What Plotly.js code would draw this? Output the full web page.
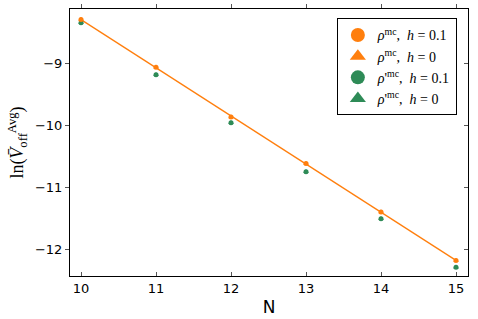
<!DOCTYPE html>
<html><head><meta charset="utf-8">
<script src="https://cdn.plot.ly/plotly-3.0.1.min.js"></script>
<style>html,body{margin:0;padding:0;background:#fff}</style>
</head><body><div id="chart" style="width:478px;height:319px"></div>
<script>
const N = [10, 11, 12, 13, 14, 15];
const rhoMcH01 = [-8.29, -9.06, -9.86, -10.61, -11.39, -12.17];
const rhoMcH0 = [-8.29, -9.06, -9.86, -10.61, -11.39, -12.17];
const rhoPMcH01 = [-8.34, -9.18, -9.95, -10.74, -11.50, -12.28];
const rhoPMcH0 = [-8.34, -9.18, -9.95, -10.74, -11.50, -12.28];
const xTicks = [10, 11, 12, 13, 14, 15];
const yTicks = [-9, -10, -11, -12];
const yTickText = ['\u22129', '\u221210', '\u221211', '\u221212'];

const ORANGE = '#ff7f0e', GREEN = '#2e8b57';

// linear fit of the first series
const n = N.length;
const mx = N.reduce((a,b)=>a+b,0)/n, my = rhoMcH01.reduce((a,b)=>a+b,0)/n;
let sxy=0, sxx=0;
for (let i=0;i<n;i++){ sxy+=(N[i]-mx)*(rhoMcH01[i]-my); sxx+=(N[i]-mx)**2; }
const slope = sxy/sxx, icpt = my - slope*mx;
const fitX = [N[0], N[n-1]];
const fitY = fitX.map(x=>icpt+slope*x);

const lf = {family:'Liberation Serif, DejaVu Serif, serif', size:14, color:'#000'};
const traces = [
  {x:fitX, y:fitY, mode:'lines', line:{color:ORANGE, width:1.3}, showlegend:false, hoverinfo:'skip'},
  {x:N, y:rhoPMcH01, mode:'markers', marker:{symbol:'circle', size:5, color:GREEN}, showlegend:false},
  {x:N, y:rhoPMcH0, mode:'markers', marker:{symbol:'triangle-up', size:5, color:GREEN}, showlegend:false},
  {x:N, y:rhoMcH01, mode:'markers', marker:{symbol:'circle', size:5, color:ORANGE}, showlegend:false},
  {x:N, y:rhoMcH0, mode:'markers', marker:{symbol:'triangle-up', size:5, color:ORANGE}, showlegend:false},
  {x:[null], y:[null], mode:'markers', marker:{symbol:'circle', size:14, color:ORANGE}, name:'<i>\u03c1</i><sup>mc</sup>,  <i>h</i> = 0.1'},
  {x:[null], y:[null], mode:'markers', marker:{symbol:'triangle-up', size:14, color:ORANGE}, name:'<i>\u03c1</i><sup>mc</sup>,  <i>h</i> = 0'},
  {x:[null], y:[null], mode:'markers', marker:{symbol:'circle', size:14, color:GREEN}, name:'<i>\u03c1</i>\'<sup>mc</sup>,  <i>h</i> = 0.1'},
  {x:[null], y:[null], mode:'markers', marker:{symbol:'triangle-up', size:14, color:GREEN}, name:'<i>\u03c1</i>\'<sup>mc</sup>,  <i>h</i> = 0'}
];

const xr = [9.853, 15.16], yr = [-12.42, -8.12];
const tf = {family:'DejaVu Sans, sans-serif', size:13, color:'#000'};
const layout = {
  width:478, height:319,
  margin:{l:70, r:10, t:9, b:43},
  paper_bgcolor:'#fff', plot_bgcolor:'#fff',
  showlegend:true,
  legend:{x:0.972, xanchor:'right', y:0.965, yanchor:'top', bordercolor:'#000', borderwidth:1,
          bgcolor:'#fff', font:lf, tracegroupgap:0, itemsizing:'trace', itemwidth:30},
  xaxis:{range:xr, tickvals:xTicks, ticktext:xTicks.map(String), ticks:'inside', ticklen:4, tickcolor:'#555',
         showgrid:false, zeroline:false, showline:true, linecolor:'#000', linewidth:1, tickfont:tf,
         title:{text:'N', font:{family:'DejaVu Sans, sans-serif', size:17, color:'#000'}, standoff:6}},
  yaxis:{range:yr, tickvals:yTicks, ticktext:yTickText, ticks:'outside', ticklen:4, tickcolor:'#555',
         showgrid:false, zeroline:false, showline:true, linecolor:'#000', linewidth:1, tickfont:tf,
         title:{text:'ln(<i>V\u0304</i><sub>off</sub><sup>Avg</sup>)', font:{family:'Liberation Serif, DejaVu Serif, serif', size:18, color:'#000'}, standoff:6}},
  xaxis2:{overlaying:'x', side:'top', anchor:'y', range:xr, tickvals:xTicks, showticklabels:false, ticks:'outside', ticklen:4, tickcolor:'#555',
          showgrid:false, zeroline:false, showline:true, linecolor:'#000', linewidth:1},
  yaxis2:{overlaying:'y', side:'right', anchor:'x', range:yr, tickvals:yTicks, showticklabels:false, ticks:'inside', ticklen:4, tickcolor:'#555',
          showgrid:false, zeroline:false, showline:true, linecolor:'#000', linewidth:1}
};
traces.push({x:[null], y:[null], xaxis:'x2', yaxis:'y2', showlegend:false, mode:'markers', hoverinfo:'skip'});
Plotly.newPlot('chart', traces, layout, {staticPlot:true, displayModeBar:false});
</script></body></html>
